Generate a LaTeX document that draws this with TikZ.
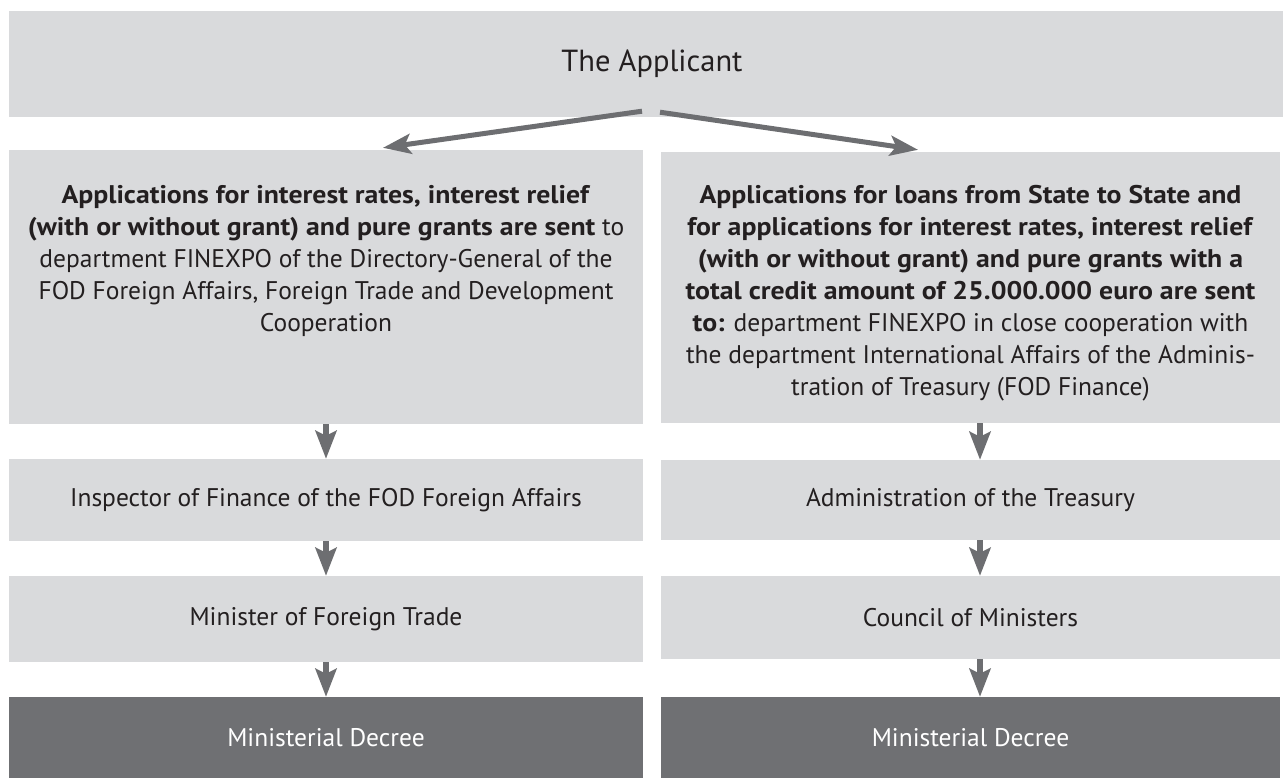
\documentclass[tikz,border=0pt]{standalone}
\usepackage{fontspec}
\setmainfont{PT Sans}[BoldFeatures={FakeStretch=1.09}]
\usetikzlibrary{arrows.meta}
\definecolor{boxgray}{HTML}{D9DADC}
\definecolor{darkbox}{HTML}{6F7073}
\definecolor{arrowgray}{HTML}{6D6E71}
\definecolor{ink}{HTML}{231F20}
\tikzset{
  cell/.style={fill=boxgray, inner sep=0pt, text=ink, align=center,
    font=\fontsize{25.5pt}{32pt}\selectfont},
  darkcell/.style={cell, fill=darkbox, text=white},
  vflow/.style={draw=arrowgray, line width=5.5pt,
    -{Stealth[length=28pt,width=21pt,inset=5pt]}},
  dflow/.style={draw=arrowgray, line width=5pt,
    -{Stealth[length=28pt,width=20pt,inset=6pt]}}
}
\begin{document}
\begin{tikzpicture}[x=1pt,y=-1pt]
\useasboundingbox (0,0) rectangle (1284,778);

\node[cell, minimum width=1274pt, minimum height=106pt,
  font=\fontsize{30.5pt}{38pt}\selectfont] (top) at (646,64) {\hspace*{12pt}The Applicant};

\node[cell] (L1) at (326,287) {\begin{minipage}[c][274pt][t]{634pt}\centering
\rule{0pt}{53pt}\textbf{Applications for interest rates, interest relief}\\
\textbf{(with or without grant) and pure grants are sent} to\\
department FINEXPO of the Directory-General of the\\
FOD Foreign Affairs, Foreign Trade and Development\\
Cooperation\end{minipage}};

\node[cell] (R1) at (970.5,287.5) {\begin{minipage}[c][271pt][t]{619pt}\centering
\rule{0pt}{51pt}\textbf{Applications for loans from State to State and}\\
\textbf{for applications for interest rates, interest relief}\\
\textbf{(with or without grant) and pure grants with a}\\
\textbf{total credit amount of 25.000.000 euro are sent}\\
\textbf{to:} department FINEXPO in close cooperation with\\
the department International Affairs of the Adminis-\\
tration of Treasury (FOD Finance)\end{minipage}};

\node[cell, minimum width=634pt, minimum height=82pt] (L2) at (326,500)
  {Inspector of Finance of the FOD Foreign Affairs};
\node[cell, minimum width=619pt, minimum height=80pt] (R2) at (970.5,500)
  {Administration of the Treasury};

\node[cell, minimum width=634pt, minimum height=86pt] (L3) at (326,619)
  {Minister of Foreign Trade};
\node[cell, minimum width=619pt, minimum height=83pt] (R3) at (970.5,617.5)
  {Council of Ministers};

\node[darkcell, minimum width=634pt, minimum height=81pt] (L4) at (326,737.5)
  {Ministerial Decree};
\node[darkcell, minimum width=619pt, minimum height=81pt] (R4) at (970.5,737.5)
  {Ministerial Decree};

\draw[dflow] ([xshift=-4pt,yshift=6pt]top.south) -- ([xshift=57pt,yshift=2pt]L1.north);
\draw[dflow] ([xshift=14pt,yshift=5pt]top.south) -- ([xshift=-52.5pt,yshift=2pt]R1.north);

\draw[vflow] (L1.south) -- (L2.north);
\draw[vflow] (L2.south) -- (L3.north);
\draw[vflow] (L3.south) -- (L4.north);
\draw[vflow] ([xshift=9.5pt]R1.south) -- ([xshift=9.5pt]R2.north);
\draw[vflow] ([xshift=9.5pt]R2.south) -- ([xshift=9.5pt]R3.north);
\draw[vflow] ([xshift=9.5pt]R3.south) -- ([xshift=9.5pt]R4.north);
\end{tikzpicture}
\end{document}
